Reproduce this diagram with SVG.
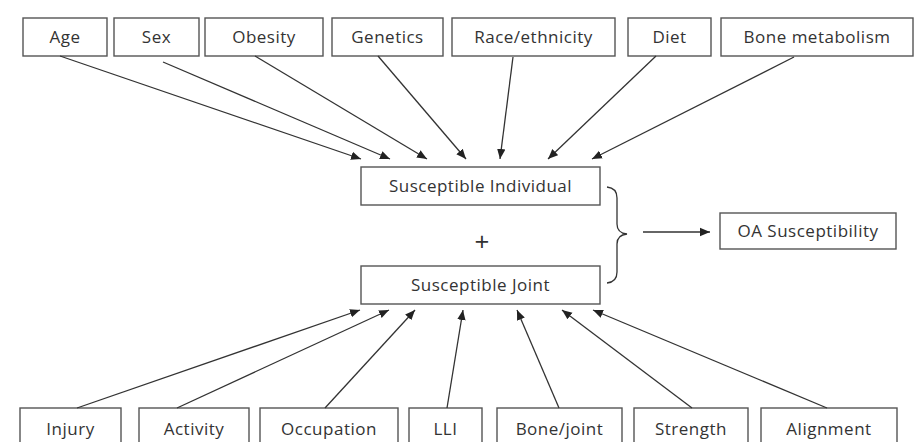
<svg xmlns="http://www.w3.org/2000/svg" width="924" height="442" viewBox="0 0 924 442">
<style>
.box{fill:#fff;stroke:#555;stroke-width:1.4}
.t{font-family:"Open Sans","Liberation Sans",sans-serif;font-size:17px;letter-spacing:0.5px;fill:#333;text-anchor:middle}
.c{stroke:#333;stroke-width:1.3;fill:none}
</style>
<defs>
<marker id="ah" viewBox="0 0 10 10" refX="10" refY="5" markerWidth="10" markerHeight="10" markerUnits="userSpaceOnUse" orient="auto">
<path d="M0,0.8 L10,5 L0,9.2 z" fill="#222"/>
</marker>
</defs>
<rect width="924" height="442" fill="#fff"/>
<g id="age"><rect class="box" x="23" y="18" width="84" height="38"/><text class="t" x="65" y="43">Age</text></g>
<g id="sex"><rect class="box" x="114" y="18" width="85" height="38"/><text class="t" x="156.5" y="43">Sex</text></g>
<g id="obesity"><rect class="box" x="205" y="18" width="118" height="38"/><text class="t" x="264" y="43">Obesity</text></g>
<g id="genetics"><rect class="box" x="332" y="18" width="111" height="38"/><text class="t" x="387.5" y="43">Genetics</text></g>
<g id="race"><rect class="box" x="452" y="18" width="163" height="38"/><text class="t" x="533.5" y="43">Race/ethnicity</text></g>
<g id="diet"><rect class="box" x="628" y="18" width="83" height="38"/><text class="t" x="669.5" y="43">Diet</text></g>
<g id="bone-metabolism"><rect class="box" x="721" y="18" width="192" height="38"/><text class="t" x="817" y="43">Bone metabolism</text></g>

<g id="susceptible-individual"><rect class="box" x="361" y="167" width="239" height="38"/><text class="t" x="480.5" y="192">Susceptible Individual</text></g>
<g id="plus"><text class="t" x="482" y="251" style="font-size:26px;letter-spacing:0">+</text></g>
<g id="susceptible-joint"><rect class="box" x="361" y="266" width="239" height="38"/><text class="t" x="480.5" y="291">Susceptible Joint</text></g>
<g id="brace"><path class="c" d="M607,187 Q617,188 617,198 L617,224 Q617,233 627,234 Q617,235 617,244 L617,272 Q617,282 607,283"/></g>
<g id="oa-susceptibility"><rect class="box" x="720" y="213" width="176" height="36"/><text class="t" x="808" y="237">OA Susceptibility</text></g>

<g id="injury"><rect class="box" x="20" y="408" width="101" height="40"/><text class="t" x="70.5" y="435">Injury</text></g>
<g id="activity"><rect class="box" x="139" y="408" width="110" height="40"/><text class="t" x="194" y="435">Activity</text></g>
<g id="occupation"><rect class="box" x="260" y="408" width="138" height="40"/><text class="t" x="329" y="435">Occupation</text></g>
<g id="lli"><rect class="box" x="409" y="408" width="73" height="40"/><text class="t" x="445.5" y="435">LLI</text></g>
<g id="bone-joint"><rect class="box" x="497" y="408" width="125" height="40"/><text class="t" x="559.5" y="435">Bone/joint</text></g>
<g id="strength"><rect class="box" x="634" y="408" width="114" height="40"/><text class="t" x="691" y="435">Strength</text></g>
<g id="alignment"><rect class="box" x="761" y="408" width="136" height="40"/><text class="t" x="829" y="435">Alignment</text></g>

<g id="connectors" class="c" marker-end="url(#ah)">
<line x1="60" y1="56" x2="361" y2="159"/>
<line x1="163" y1="62" x2="390" y2="159"/>
<line x1="255" y1="56" x2="427" y2="159"/>
<line x1="378" y1="56" x2="466" y2="159"/>
<line x1="513" y1="57" x2="500" y2="159"/>
<line x1="656" y1="56" x2="548" y2="159"/>
<line x1="794" y1="57" x2="592" y2="159"/>
<line x1="77" y1="408" x2="360" y2="310"/>
<line x1="177" y1="408" x2="389" y2="310"/>
<line x1="325" y1="408" x2="415" y2="310"/>
<line x1="447" y1="408" x2="463" y2="310"/>
<line x1="559" y1="408" x2="517" y2="310"/>
<line x1="692" y1="408" x2="562" y2="310"/>
<line x1="827" y1="408" x2="593" y2="310"/>
<line x1="643" y1="232" x2="710" y2="232"/>
</g>
</svg>
